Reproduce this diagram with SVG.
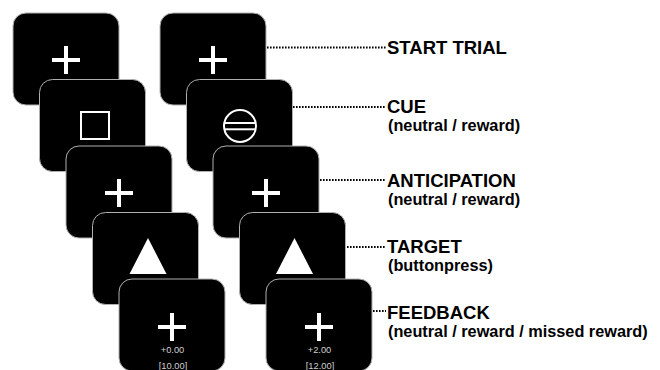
<svg xmlns="http://www.w3.org/2000/svg" xmlns:xlink="http://www.w3.org/1999/xlink" width="660" height="370" viewBox="0 0 660 370">
<style>
.card{fill:#000;stroke:#b0b0b0;stroke-width:1}
.sym{fill:none;stroke:#fff;stroke-width:2}
.dot{stroke:#000;stroke-width:2;stroke-dasharray:1.6 1.4;fill:none}
.h{font-family:"Liberation Sans",Arial,sans-serif;font-weight:bold;font-size:18.5px;fill:#000}
.s{font-family:"Liberation Sans",Arial,sans-serif;font-weight:bold;font-size:16.3px;fill:#000}
.fb{font-family:"Liberation Sans",Arial,sans-serif;font-size:9.3px;fill:#cfcfcf;text-anchor:middle}
</style>
<defs>
<g id="cross"><rect x="-14" y="-2" width="28" height="4" fill="#fff"/><rect x="-2" y="-14" width="4" height="28" fill="#fff"/></g>
</defs>
<rect width="660" height="370" fill="#fff"/>
<g id="left-start"><rect class="card" x="13" y="13" width="106" height="92" rx="13"/><use xlink:href="#cross" href="#cross" x="66" y="60"/></g>
<g id="left-cue"><rect class="card" x="39.5" y="79.5" width="106" height="92" rx="13"/><rect class="sym" x="81" y="112" width="28" height="27"/></g>
<g id="left-anticipation"><rect class="card" x="66" y="146" width="106" height="92" rx="13"/><use xlink:href="#cross" href="#cross" x="119" y="193"/></g>
<g id="left-target"><rect class="card" x="92.5" y="212.5" width="106" height="92" rx="13"/><polygon points="148,238 129.5,274 166.5,274" fill="#fff"/></g>
<g id="left-feedback"><rect class="card" x="119" y="279" width="106" height="92" rx="13"/><use xlink:href="#cross" href="#cross" x="172" y="327"/><text class="fb" x="172.5" y="352.5">+0.00</text><text class="fb" x="173" y="368.5">[10.00]</text></g>
<g id="right-start"><rect class="card" x="160" y="13" width="106" height="92" rx="13"/><use xlink:href="#cross" href="#cross" x="213" y="60"/></g>
<g id="right-cue"><rect class="card" x="186.5" y="79.5" width="106" height="92" rx="13"/><circle class="sym" cx="240" cy="126" r="16"/><line class="sym" x1="224" y1="123" x2="256" y2="123"/><line class="sym" x1="224" y1="129.3" x2="256" y2="129.3"/></g>
<g id="right-anticipation"><rect class="card" x="213" y="146" width="106" height="92" rx="13"/><use xlink:href="#cross" href="#cross" x="266" y="193"/></g>
<g id="right-target"><rect class="card" x="239.5" y="212.5" width="106" height="92" rx="13"/><polygon points="294.5,238 276,274 313,274" fill="#fff"/></g>
<g id="right-feedback"><rect class="card" x="266" y="279" width="106" height="92" rx="13"/><use xlink:href="#cross" href="#cross" x="319" y="327"/><text class="fb" x="319.5" y="352.5">+2.00</text><text class="fb" x="320" y="368.5">[12.00]</text></g>
<g id="connectors">
<line class="dot" x1="267" y1="47.5" x2="386" y2="47.5"/>
<line class="dot" x1="293" y1="107" x2="386" y2="107"/>
<line class="dot" x1="320" y1="180" x2="386" y2="180"/>
<line class="dot" x1="347" y1="247" x2="386" y2="247"/>
<line class="dot" x1="373" y1="311" x2="386" y2="311"/>
</g>
<g id="label-start"><text class="h" x="387" y="54">START TRIAL</text></g>
<g id="label-cue"><text class="h" x="387" y="113">CUE</text><text class="s" x="388" y="131">(neutral / reward)</text></g>
<g id="label-anticipation"><text class="h" x="387" y="187">ANTICIPATION</text><text class="s" x="388" y="205">(neutral / reward)</text></g>
<g id="label-target"><text class="h" x="387" y="253">TARGET</text><text class="s" x="388" y="270.5">(buttonpress)</text></g>
<g id="label-feedback"><text class="h" x="387" y="319">FEEDBACK</text><text class="s" x="388" y="337">(neutral / reward / missed reward)</text></g>
</svg>
